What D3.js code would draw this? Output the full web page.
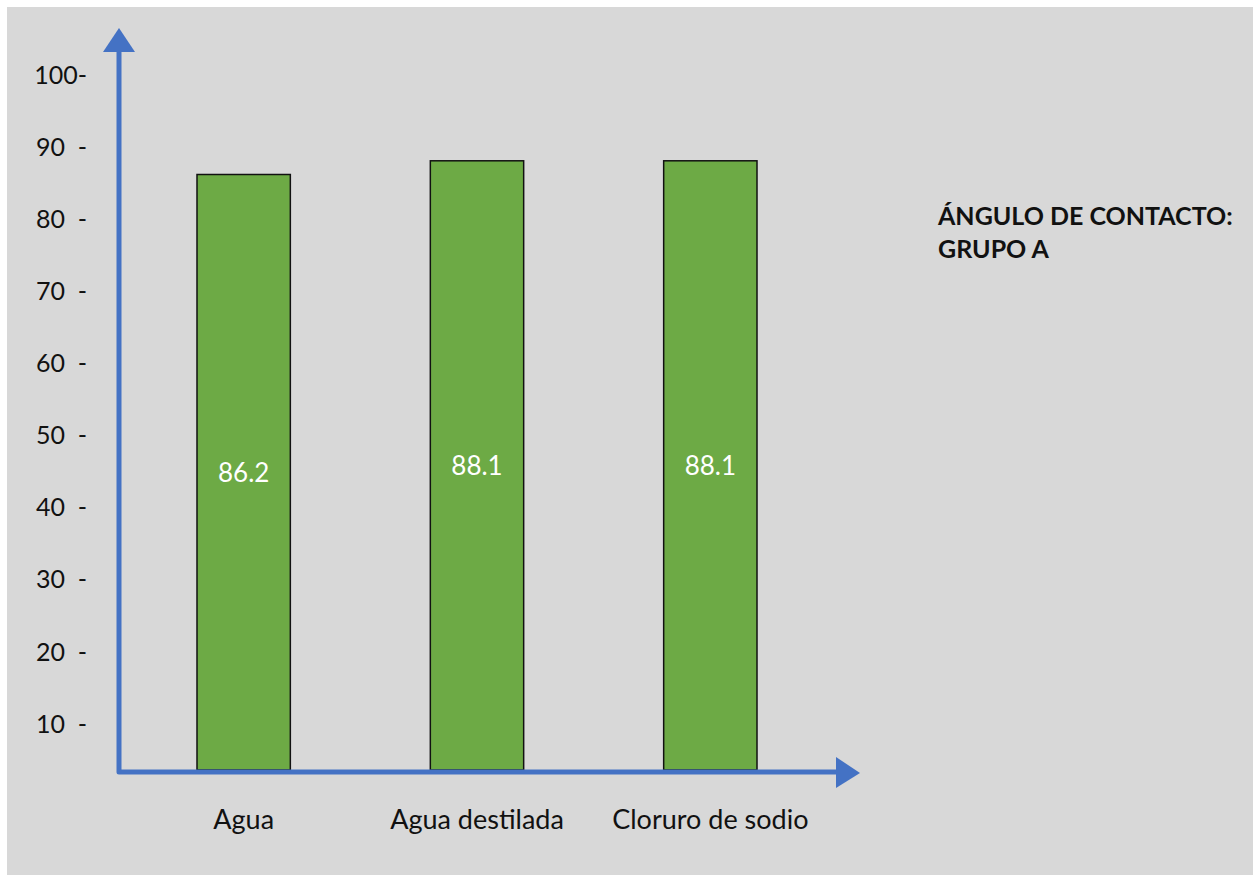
<!DOCTYPE html>
<html>
<head>
<meta charset="utf-8">
<script src="https://cdn.jsdelivr.net/npm/d3@7"></script>
<style>
  html, body { margin: 0; padding: 0; background: #ffffff; }
  svg { display: block; }
</style>
</head>
<body>
<svg id="chart" width="1253" height="876"></svg>
<script>
// Contact angle per liquid, group A
const categories = ["Agua", "Agua destilada", "Cloruro de sodio"];
const values = [86.2, 88.1, 88.1];
const tickValues = [10, 20, 30, 40, 50, 60, 70, 80, 90, 100];
const tickLabels = ["10  -", "20  -", "30  -", "40  -", "50  -", "60  -", "70  -", "80  -", "90  -", "100-"];
const titleLines = ["ÁNGULO DE CONTACTO:", "GRUPO A"];

const svg = d3.select("#chart");
const font = "Lato, 'Open Sans', sans-serif";
const axisBlue = "#4472C4";

// panel background
svg.append("rect")
  .attr("x", 7).attr("y", 7).attr("width", 1246).attr("height", 868)
  .attr("fill", "#d8d8d8");

const axisX = 119, axisY = 772;

const y = d3.scaleLinear().domain([0, 100]).range([796, 75]);
const x = d3.scaleBand().domain(categories).range([127, 827]).paddingInner(0.6).paddingOuter(0.3);

// bars, from the axis line up to each value
const bars = svg.append("g");
bars.selectAll("rect").data(values).join("rect")
  .attr("x", (d, i) => x(categories[i]))
  .attr("width", x.bandwidth())
  .attr("y", d => y(d))
  .attr("height", d => axisY - 2 - y(d))
  .attr("fill", "#6DAA45")
  .attr("stroke", "#111")
  .attr("stroke-width", 1.5);

// value labels in the middle of each bar
bars.selectAll("text").data(values).join("text")
  .attr("x", (d, i) => x(categories[i]) + x.bandwidth() / 2)
  .attr("y", d => (y(d) + axisY) / 2)
  .attr("dy", "0.35em")
  .attr("text-anchor", "middle")
  .attr("fill", "#ffffff")
  .attr("font-family", font)
  .attr("font-size", 26)
  .text(d => d.toFixed(1));

// y tick labels
svg.append("g").selectAll("text").data(tickValues).join("text")
  .attr("x", 87)
  .attr("y", d => y(d))
  .attr("dy", "0.35em")
  .attr("text-anchor", "end")
  .attr("fill", "#111")
  .attr("font-family", font)
  .attr("font-size", 25)
  .attr("xml:space", "preserve")
  .style("white-space", "pre")
  .text((d, i) => tickLabels[i]);

// category labels
svg.append("g").selectAll("text").data(categories).join("text")
  .attr("x", d => x(d) + x.bandwidth() / 2)
  .attr("y", 820)
  .attr("dy", "0.35em")
  .attr("text-anchor", "middle")
  .attr("fill", "#111")
  .attr("font-family", font)
  .attr("font-size", 27)
  .text(d => d);

// axes with arrowheads
const axes = svg.append("g");
axes.append("path")
  .attr("d", `M${axisX},48 V${axisY} H842`)
  .attr("fill", "none")
  .attr("stroke", axisBlue)
  .attr("stroke-width", 5)
  .attr("stroke-linejoin", "round");
axes.append("path")
  .attr("d", `M${axisX},28 L${axisX + 16},52 L${axisX - 16},52 Z`)
  .attr("fill", axisBlue);
axes.append("path")
  .attr("d", `M860,${axisY + 1} L836,${axisY - 15} L836,${axisY + 16} Z`)
  .attr("fill", axisBlue);

// title block
svg.append("g").selectAll("text").data(titleLines).join("text")
  .attr("x", 938)
  .attr("y", (d, i) => 225 + i * 33)
  .attr("fill", "#111")
  .attr("font-family", font)
  .attr("font-weight", "bold")
  .attr("font-size", 25)
  .text(d => d);
</script>
</body>
</html>
